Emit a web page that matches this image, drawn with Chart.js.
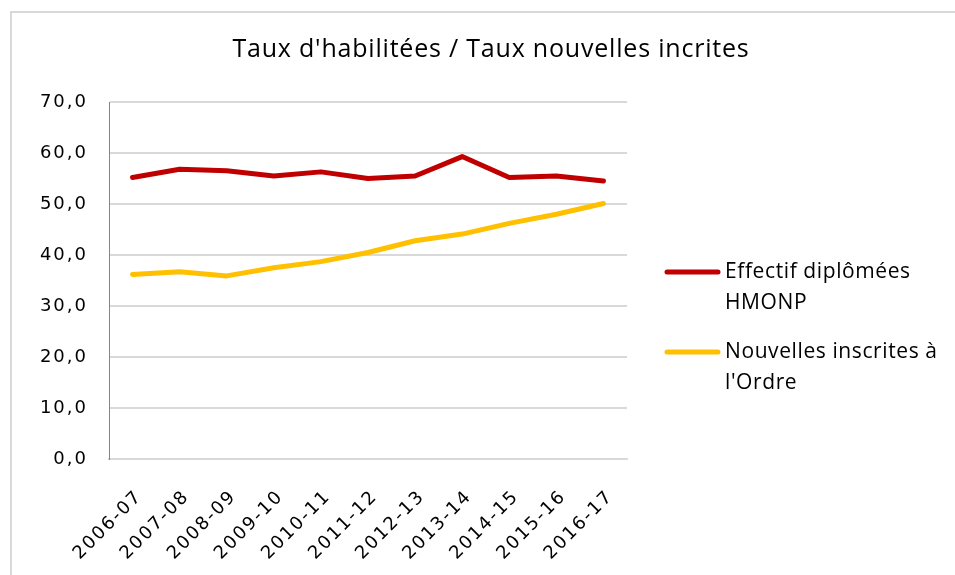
<!DOCTYPE html>
<html>
<head>
<meta charset="utf-8">
<script src="https://cdn.jsdelivr.net/npm/chart.js@4"></script>
<style>
  html, body { margin: 0; padding: 0; background: #ffffff; }
  #wrap { position: relative; width: 955px; height: 575px; overflow: hidden; }
  #frame { position: absolute; left: 10px; top: 11px; width: 1000px; height: 700px;
           border-left: 2px solid #d9d9d9; border-top: 2px solid #d9d9d9; box-sizing: border-box; }
  canvas { position: absolute; left: 0; top: 0; }
</style>
</head>
<body>
<div id="wrap">
  <div id="frame"></div>
  <canvas id="c" width="955" height="575"></canvas>
</div>
<script>
const chartTitle = "Taux d'habilitées / Taux nouvelles incrites";
const categories = ["2006-07","2007-08","2008-09","2009-10","2010-11","2011-12","2012-13","2013-14","2014-15","2015-16","2016-17"];
const seriesNames = [["Effectif diplômées", "HMONP"], ["Nouvelles inscrites à", "l'Ordre"]];
const effectifHMONP = [55.2, 56.8, 56.5, 55.5, 56.3, 55.0, 55.5, 59.3, 55.2, 55.5, 54.5];
const nouvellesInscrites = [36.2, 36.7, 35.9, 37.5, 38.7, 40.5, 42.8, 44.1, 46.2, 48.0, 50.1];
const yTicks = [0, 10, 20, 30, 40, 50, 60, 70];

const FONT = "'Open Sans', sans-serif";
const TICKFONT = "'DejaVu Sans', sans-serif";
const colors = ["#c00000", "#ffc000"];

const spacing = {
  id: 'spacing',
  beforeDraw(chart) { chart.ctx.letterSpacing = '2px'; },
  afterDatasetsDraw(chart) { chart.ctx.letterSpacing = '0px'; }
};

const titleAndLegend = {
  id: 'titleAndLegend',
  afterDraw(chart) {
    const ctx = chart.ctx;
    ctx.save();
    ctx.fillStyle = '#000000';
    ctx.font = "25px " + FONT;
    ctx.letterSpacing = '0.8px';
    ctx.textAlign = 'center';
    ctx.textBaseline = 'middle';
    ctx.fillText(chartTitle, 491, 50);
    // legend
    const entries = [{y: 272}, {y: 352}];
    entries.forEach((e, i) => {
      ctx.strokeStyle = colors[i];
      ctx.lineWidth = 5;
      ctx.lineCap = 'round';
      ctx.beginPath();
      ctx.moveTo(667, e.y);
      ctx.lineTo(718, e.y);
      ctx.stroke();
      ctx.fillStyle = '#000000';
      ctx.font = "21px " + FONT;
      ctx.letterSpacing = '0.6px';
      ctx.textAlign = 'left';
      ctx.textBaseline = 'middle';
      seriesNames[i].forEach((line, k) => {
        ctx.fillText(line, 725, e.y + k * 31);
      });
    });
    ctx.restore();
  }
};

new Chart(document.getElementById('c'), {
  type: 'line',
  data: {
    labels: categories,
    datasets: [
      { label: seriesNames[0].join(' '), data: effectifHMONP, borderColor: colors[0], backgroundColor: colors[0],
        borderWidth: 5, pointRadius: 0, tension: 0, borderCapStyle: 'round', borderJoinStyle: 'round' },
      { label: seriesNames[1].join(' '), data: nouvellesInscrites, borderColor: colors[1], backgroundColor: colors[1],
        borderWidth: 5, pointRadius: 0, tension: 0, borderCapStyle: 'round', borderJoinStyle: 'round' }
    ]
  },
  options: {
    responsive: false,
    animation: false,
    devicePixelRatio: 1,
    layout: { padding: { top: 102, right: 328, bottom: 0, left: 0 } },
    plugins: {
      legend: { display: false },
      title: { display: false },
      tooltip: { enabled: false }
    },
    scales: {
      x: {
        offset: true,
        grid: { display: false, drawTicks: false },
        border: { display: true, color: '#d9d9d9', width: 2 },
        ticks: { autoSkip: false, minRotation: 45, maxRotation: 45, padding: 27, labelOffset: 7,
                 color: '#000000', font: { family: TICKFONT, size: 18 } },
        afterFit(scale) { scale.height = 116; }
      },
      y: {
        min: 0, max: 70,
        afterBuildTicks(scale) { scale.ticks = yTicks.map(v => ({ value: v })); },
        grid: { color: '#d9d9d9', lineWidth: 2, drawTicks: false },
        border: { display: true, color: '#868686', width: 1 },
        ticks: { padding: 21, color: '#000000', font: { family: TICKFONT, size: 18 },
                 callback: v => v.toFixed(1).replace('.', ',') },
        afterFit(scale) { scale.width = 109; }
      }
    }
  },
  plugins: [spacing, titleAndLegend]
});
</script>
</body>
</html>
